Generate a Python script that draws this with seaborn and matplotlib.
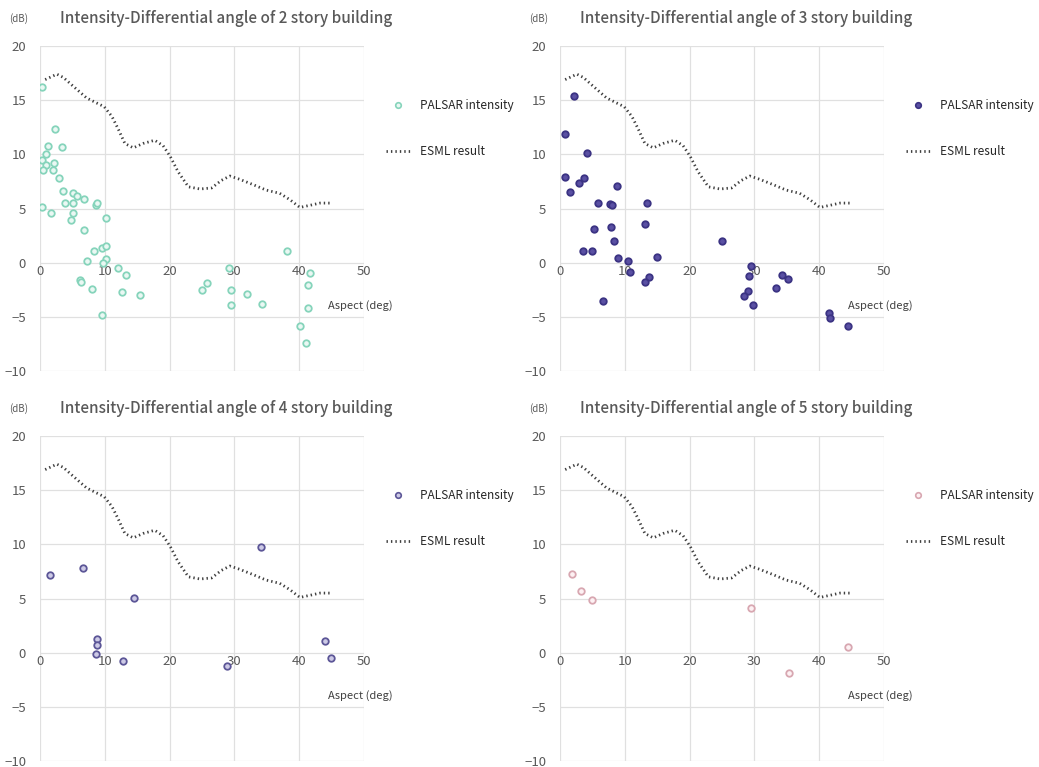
import matplotlib
matplotlib.use("Agg")
import matplotlib.pyplot as plt
import seaborn as sns
import numpy as np
from matplotlib.lines import Line2D

sns.set_theme(style="whitegrid")
plt.rcParams['font.family'] = ['Noto Sans CJK JP', 'DejaVu Sans']

# ESML result curve (same in all panels)
esml_x = [0.8, 2.6, 3.6, 5.1, 7.2, 8.7, 9.9, 11.1, 12.1, 13.1, 14.4, 15.9, 17.7, 19.0,
          20.1, 21.3, 22.9, 24.7, 26.5, 28.0, 29.3, 30.8, 32.9, 34.9, 37.0, 38.6, 40.1,
          41.7, 43.2, 45.0]
esml_y = [16.9, 17.4, 17.1, 16.3, 15.2, 14.75, 14.4, 13.5, 12.3, 11.0, 10.6, 11.0, 11.3, 10.8,
          9.8, 8.4, 7.0, 6.8, 6.9, 7.6, 8.0, 7.7, 7.2, 6.7, 6.4, 5.8, 5.1,
          5.3, 5.5, 5.5]

# PALSAR intensity, 2 story
s2_x = [0.26, 2.3, 1.3, 3.4, 0.9, 0.36, 0.9, 2.2, 0.5, 2.0, 2.9, 3.5, 5.1, 5.7, 6.8, 3.8,
        5.1, 8.7, 8.85, 0.36, 1.7, 5.1, 4.8, 10.2, 6.8, 8.3, 9.6, 10.2, 7.3, 10.2, 9.7,
        12.1, 13.2, 6.1, 6.25, 8.0, 12.7, 15.5, 9.5,
        38.1, 29.2, 41.7, 25.8, 25.0, 29.4, 41.3, 31.9, 29.4, 34.3, 41.3, 40.1, 41.0]
s2_y = [16.2, 12.3, 10.8, 10.7, 10.0, 9.5, 9.0, 9.2, 8.6, 8.6, 7.8, 6.6, 6.4, 6.2, 5.9, 5.5,
        5.5, 5.3, 5.5, 5.1, 4.6, 4.6, 3.9, 4.1, 3.0, 1.05, 1.4, 1.5, 0.2, 0.3, -0.06,
        -0.5, -1.1, -1.6, -1.8, -2.4, -2.7, -3.0, -4.8,
        1.1, -0.46, -0.95, -1.9, -2.5, -2.5, -2.1, -2.9, -3.9, -3.8, -4.2, -5.8, -7.4]

# PALSAR intensity, 3 story
s3_x = [2.2, 0.8, 4.2, 0.8, 3.7, 3.0, 1.5, 8.8, 5.8, 7.7, 8.1, 13.4, 13.1, 5.2, 7.9, 8.3,
        3.5, 4.9, 8.9, 10.5, 15.0, 10.8, 13.7, 13.1, 6.7,
        25.0, 29.4, 29.2, 34.3, 35.2, 33.4, 29.0, 28.4, 29.8, 41.5, 41.6, 44.4]
s3_y = [15.4, 11.9, 10.1, 7.9, 7.8, 7.35, 6.5, 7.1, 5.5, 5.45, 5.3, 5.5, 3.6, 3.1, 3.3, 2.0,
        1.05, 1.05, 0.43, 0.15, 0.55, -0.83, -1.35, -1.8, -3.5,
        2.0, -0.28, -1.2, -1.1, -1.55, -2.3, -2.6, -3.1, -3.9, -4.6, -5.1, -5.8]

# PALSAR intensity, 4 story
s4_x = [1.6, 6.6, 34.1, 14.5, 8.8, 8.8, 8.6, 12.8, 28.8, 44.0, 44.9]
s4_y = [7.2, 7.8, 9.8, 5.05, 1.25, 0.7, -0.1, -0.76, -1.2, 1.04, -0.5]

# PALSAR intensity, 5 story
s5_x = [1.85, 3.2, 5.0, 29.5, 44.5, 35.4]
s5_y = [7.3, 5.65, 4.9, 4.1, 0.5, -1.9]

titles = ["Intensity-Differential angle of 2 story building",
          "Intensity-Differential angle of 3 story building",
          "Intensity-Differential angle of 4 story building",
          "Intensity-Differential angle of 5 story building"]
series = [(s2_x, s2_y), (s3_x, s3_y), (s4_x, s4_y), (s5_x, s5_y)]
faces = ['#eaf8f3', '#5a50a3', '#cdcae6', '#fdf1f3']
edges = ['#86d4bb', '#3b3383', '#5c5697', '#d8a7b1']
legend_labels = ["PALSAR intensity", "PALSAR intensity", "PALSAR intensity", "PALSAR intensity"]

fig = plt.figure(figsize=(10.39, 7.67), dpi=100)
W, H = 1039, 767
boxes = [(40, 46), (560, 46), (40, 436), (560, 436)]
aw, ah = 324, 325

grid_c = '#e0e0e0'
txt_c = '#595959'
dot_style = (0, (0.5, 1.1))

for i, (lx, ty) in enumerate(boxes):
    ax = fig.add_axes([lx / W, 1 - (ty + ah) / H, aw / W, ah / H])
    ax.set_facecolor('white')
    xs, ys = series[i]
    sns.lineplot(x=esml_x, y=esml_y, ax=ax, color='#404040', linewidth=2.0,
                 linestyle=dot_style, sort=False, zorder=3, legend=False)
    sns.scatterplot(x=xs, y=ys, ax=ax, s=22, color=faces[i], edgecolor=edges[i],
                    linewidth=1.3, zorder=4, legend=False)
    ax.set_xlim(0, 50)
    ax.set_ylim(-10, 20)
    ax.set_xticks([0, 10, 20, 30, 40, 50])
    ax.set_yticks([-10, -5, 0, 5, 10, 15, 20])
    ax.grid(True, color=grid_c, linewidth=0.9)
    for sp in ['top', 'right', 'left']:
        ax.spines[sp].set_visible(False)
    ax.spines['bottom'].set_position(('data', 0))
    ax.spines['bottom'].set_visible(False)
    ax.tick_params(axis='both', length=0, labelsize=9.5, labelcolor=txt_c)
    ax.tick_params(axis='y', pad=10)
    ax.tick_params(axis='x', pad=2)
    ax.set_xlabel('')
    ax.set_ylabel('')
    ax.text(-0.065, 1.085, '(dB)', transform=ax.transAxes, fontsize=7,
            color=txt_c, ha='center', va='center')
    ax.text(0.062, 1.085, titles[i], transform=ax.transAxes, fontsize=11,
            fontweight='medium', color=txt_c, ha='left', va='center')
    ax.text(0.89, 0.2, 'Aspect (deg)', transform=ax.transAxes, fontsize=8,
            color='#404040', ha='left', va='center', clip_on=False)
    handles = [Line2D([], [], linestyle='none', marker='o', markersize=4,
                      markerfacecolor=faces[i], markeredgecolor=edges[i], markeredgewidth=1.2),
               Line2D([], [], color='#404040', linewidth=2.0, linestyle=dot_style)]
    ax.legend(handles, [legend_labels[i], "ESML result"], loc='upper left',
              bbox_to_anchor=(1.035, 0.87), frameon=False, fontsize=8.5,
              labelspacing=2.8, handlelength=2.0, handletextpad=0.9,
              labelcolor='#262626')

fig.savefig('out.png', dpi=100, facecolor='white')
